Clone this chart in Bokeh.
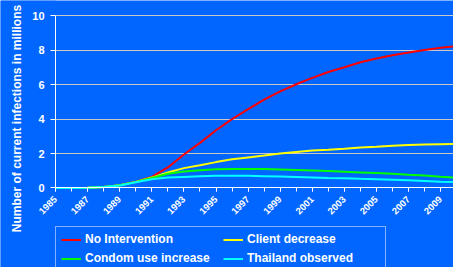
import math
from bokeh.plotting import figure
from bokeh.models import Range1d, FixedTicker, Legend, LegendItem, BoxAnnotation, Label
from bokeh.embed import file_html
from bokeh.resources import INLINE

years = list(range(1985, 2011))
no_intervention = [0.0, 0.0, 0.01, 0.05, 0.15, 0.36, 0.64, 1.19, 1.94, 2.62, 3.35, 4.0, 4.58, 5.14,
                   5.61, 6.03, 6.4, 6.74, 7.02, 7.31, 7.53, 7.72, 7.87, 8.02, 8.15, 8.25]
client_decrease = [0.0, 0.0, 0.01, 0.05, 0.15, 0.35, 0.6, 0.9, 1.15, 1.32, 1.5, 1.66, 1.77, 1.88,
                   2.0, 2.09, 2.17, 2.22, 2.28, 2.35, 2.39, 2.45, 2.49, 2.52, 2.54, 2.55]
condom_use = [0.0, 0.0, 0.01, 0.05, 0.15, 0.35, 0.58, 0.82, 0.95, 1.03, 1.08, 1.1, 1.1, 1.1,
              1.07, 1.04, 1.01, 0.98, 0.94, 0.9, 0.86, 0.82, 0.76, 0.72, 0.65, 0.6]
thailand_observed = [0.0, 0.0, 0.01, 0.05, 0.14, 0.33, 0.5, 0.6, 0.64, 0.68, 0.7, 0.7, 0.7, 0.68,
                     0.66, 0.64, 0.61, 0.58, 0.56, 0.53, 0.51, 0.48, 0.44, 0.4, 0.36, 0.33]
label_years = list(range(1985, 2011, 2))
y_ticks = [0, 2, 4, 6, 8, 10]
y_title = "Number of current infections in millions"

BG = "#0066FF"
FONT = "Liberation Sans"

p = figure(width=453, height=267, output_backend="svg", toolbar_location=None,
           x_range=Range1d(1981.57, 2009.8), y_range=Range1d(-4.63, 10.9),
           min_border_left=0, min_border_right=0, min_border_top=0, min_border_bottom=0)
p.background_fill_color = BG
p.border_fill_color = BG
p.outline_line_color = None

p.xgrid.grid_line_color = None
p.ygrid.grid_line_color = "#C8C8C8"
p.ygrid.grid_line_width = 1
p.ygrid.bounds = (0, 10)

# hide the grid to the left of the value axis
p.add_layout(BoxAnnotation(right=years[0], fill_color=BG, fill_alpha=1, line_color=None,
                           level="underlay"))

r1 = p.line(years, no_intervention, line_color="#FF0000", line_width=2)
r2 = p.line(years, client_decrease, line_color="#FFFF00", line_width=2)
r3 = p.line(years, condom_use, line_color="#00FF00", line_width=2)
r4 = p.line(years, thailand_observed, line_color="#00FFFF", line_width=2)

# x axis drawn at y = 0 inside the frame
xa = p.xaxis[0]
xa.fixed_location = 0
xa.bounds = (years[0], 2009.8)
xa.ticker = FixedTicker(ticks=label_years, minor_ticks=years)
xa.major_label_orientation = math.pi / 4
xa.axis_line_color = "white"
xa.major_tick_line_color = "white"
xa.minor_tick_line_color = "white"
xa.major_tick_out = 4
xa.major_tick_in = 0
xa.minor_tick_out = 4
xa.minor_tick_in = 0
xa.major_label_text_color = "white"
xa.major_label_text_font = FONT
xa.major_label_text_font_style = "bold"
xa.major_label_text_font_size = "9.5px"
xa.major_label_standoff = 6

# y axis drawn at the first year
ya = p.yaxis[0]
ya.fixed_location = years[0]
ya.bounds = (0, 10)
ya.ticker = FixedTicker(ticks=y_ticks, minor_ticks=[])
ya.axis_line_color = "white"
ya.major_tick_line_color = "white"
ya.major_tick_out = 5
ya.major_tick_in = 0
ya.major_label_text_color = "white"
ya.major_label_text_font = FONT
ya.major_label_text_font_style = "bold"
ya.major_label_text_font_size = "11px"
ya.major_label_standoff = 6

p.add_layout(Label(x=16.5, y=149, x_units="screen", y_units="screen", text=y_title,
                   angle=math.pi / 2, text_align="center", text_baseline="middle",
                   text_color="white", text_font=FONT, text_font_style="bold",
                   text_font_size="12px"))

legend = Legend(items=[
    LegendItem(label="No Intervention", renderers=[r1]),
    LegendItem(label="Client decrease", renderers=[r2]),
    LegendItem(label="Condom use increase", renderers=[r3]),
    LegendItem(label="Thailand observed", renderers=[r4]),
], orientation="horizontal", ncols=2, location=(55, -4))
legend.background_fill_color = BG
legend.background_fill_alpha = 1
legend.border_line_color = "white"
legend.border_line_width = 1
legend.label_text_color = "white"
legend.label_text_font = FONT
legend.label_text_font_style = "bold"
legend.label_text_font_size = "12px"
legend.glyph_width = 20
legend.glyph_height = 11
legend.label_height = 11
legend.label_width = 133
legend.label_standoff = 4
legend.spacing = 5
legend.padding = 5
legend.margin = 0
p.add_layout(legend, "center")

open("out.html", "w").write(file_html(p, INLINE))
